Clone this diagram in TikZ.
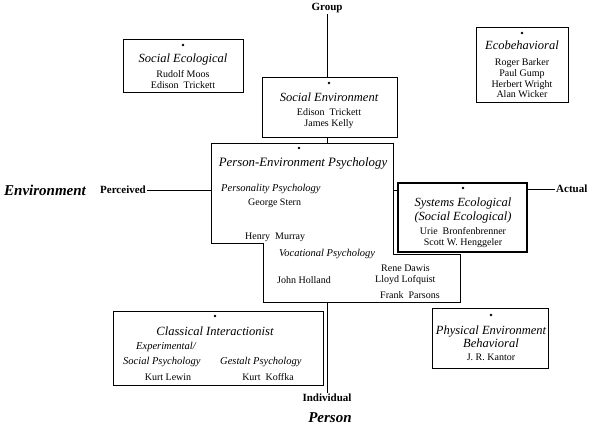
\documentclass[tikz,border=0pt]{standalone}
\usepackage{fontspec}
\setmainfont{Liberation Serif}
\begin{document}
\begin{tikzpicture}[x=1pt,y=-1pt,
  box/.style={draw, line width=0.8pt, inner sep=0pt},
  ttl/.style={font=\fontsize{12.5}{13}\selectfont\itshape, inner sep=0pt},
  sub/.style={font=\fontsize{10.5}{11}\selectfont\itshape, inner sep=0pt},
  nm/.style={font=\fontsize{10}{10.5}\selectfont, inner sep=0pt},
  axl/.style={font=\fontsize{11}{12}\selectfont\bfseries, inner sep=1pt},
  big/.style={font=\fontsize{15}{16}\selectfont\bfseries\itshape, inner sep=0pt},
  dotm/.style={circle, fill, inner sep=0pt, minimum size=2.8pt},
  ln/.style={line width=0.8pt}]
\useasboundingbox (0,0) rectangle (600,429);

% axis labels
\node[axl] (group) at (327,8) {Group};
\node[axl] (indiv) at (327,398) {Individual};
\node[big] (person) at (330,418) {Person};
\node[big] (env) at (45,190) {Environment};
\node[axl, anchor=west] (perc) at (99,190) {Perceived};
\node[axl, anchor=west] (actual) at (555,189) {Actual};

% boxes
\node[box, minimum width=120pt, minimum height=53pt] (socecol) at (183,65.5) {};
\node[box, minimum width=135pt, minimum height=60pt] (senv) at (329.5,107) {};
\node[box, minimum width=92pt, minimum height=75pt] (eco) at (522,64.5) {};
\node[box, minimum width=129pt, minimum height=69pt, line width=1.1pt] (sys) at (462.5,217.5) {};
\node[box, minimum width=210pt, minimum height=74pt] (classic) at (218,348) {};
\node[box, minimum width=116pt, minimum height=60pt] (phys) at (490,338) {};

% Person-Environment polygon
\coordinate (petop) at (327,143);
\coordinate (pebot) at (327,302);
\coordinate (peleft) at (211,190);
\coordinate (peright) at (393,190);
\draw[ln] (211,143) -- (393,143) -- (393,254) -- (460,254) -- (460,302)
  -- (263,302) -- (263,243) -- (211,243) -- cycle;

% axes
\draw[ln] (group.south) -- (group.south |- senv.north);
\draw[ln] (senv.south -| petop) -- (petop);
\draw[ln] (pebot) -- (indiv.north);
\draw[ln] (perc.east) -- (peleft);
\draw[ln] (peright) -- (peright -| sys.west);
\draw[ln] (sys.east |- actual.west) -- (actual.west);

% Social Ecological
\node[dotm] (d1) at (183,45) {};
\node[ttl] (t1) at (183,59) {Social Ecological};
\node[nm, align=center] (n1) at (183,79.5) {Rudolf Moos\\Edison\ \ Trickett};

% Social Environment
\node[dotm] (d2) at (329,83) {};
\node[ttl] (t2) at (329,97) {Social Environment};
\node[nm, align=center] (n2) at (329,118.5) {Edison\ \ Trickett\\James Kelly};

% Ecobehavioral
\node[dotm] (d3) at (522,33) {};
\node[ttl] (t3) at (522,45.5) {Ecobehavioral};
\node[nm, align=center, font=\fontsize{10}{10.7}\selectfont] (n3) at (522,78.5) {Roger Barker\\Paul Gump\\Herbert Wright\\Alan Wicker};

% Person-Environment Psychology
\node[dotm] (d4) at (299,148) {};
\node[ttl, font=\fontsize{12.8}{13}\selectfont\itshape] (t4) at (303,163) {Person-Environment Psychology};
\node[sub, anchor=west] (s4a) at (221,189) {Personality Psychology};
\node[nm, anchor=west] (n4a) at (248,203) {George Stern};
\node[nm, anchor=west] (n4b) at (245,237) {Henry\ \ Murray};
\node[sub, anchor=west] (s4b) at (279,254) {Vocational Psychology};
\node[nm, anchor=west] (n4c) at (277,280) {John Holland};
\node[nm, anchor=west] (n4d) at (381,268) {Rene Dawis};
\node[nm, anchor=west] (n4e) at (375,280) {Lloyd Lofquist};
\node[nm, anchor=west] (n4f) at (380,295) {Frank\ \ Parsons};

% Systems Ecological
\node[dotm] (d5) at (463,188) {};
\node[ttl, align=center, font=\fontsize{12.5}{14}\selectfont\itshape] (t5) at (463,210) {Systems Ecological\\(Social Ecological)};
\node[nm, align=center, font=\fontsize{10}{11}\selectfont] (n5) at (463,238) {Urie\ \ Bronfenbrenner\\Scott W.\ Henggeler};

% Classical Interactionist
\node[dotm] (d6) at (215,316) {};
\node[ttl] (t6) at (215,331) {Classical\ Interactionist};
\node[sub, anchor=west] (s6a) at (136,347) {Experimental/};
\node[sub, anchor=west] (s6b) at (123,362) {Social Psychology};
\node[sub, anchor=west] (s6c) at (220,362) {Gestalt Psychology};
\node[nm] (n6a) at (168,377) {Kurt Lewin};
\node[nm] (n6b) at (268,377) {Kurt\ \ Koffka};

% Physical Environment Behavioral
\node[dotm] (d7) at (491,315) {};
\node[ttl, align=center, font=\fontsize{12.5}{13}\selectfont\itshape] (t7) at (491,336.5) {Physical Environment\\Behavioral};
\node[nm] (n7) at (491,357) {J.\ R.\ Kantor};
\end{tikzpicture}
\end{document}
